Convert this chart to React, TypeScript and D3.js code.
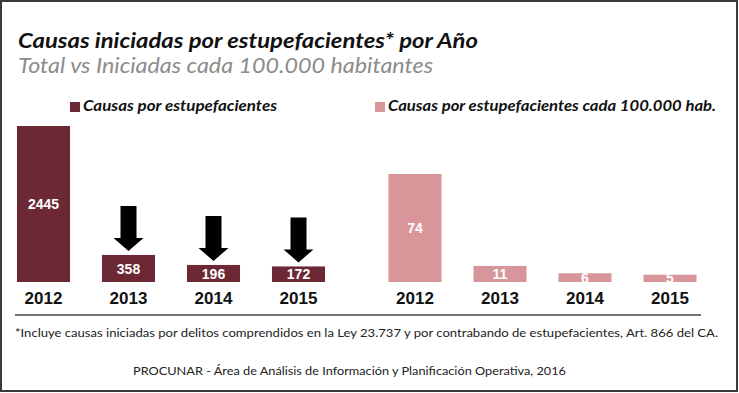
// @ts-nocheck
import React, { useRef, useEffect } from 'react';
import * as d3 from 'd3';

// years on both panels
const years = ["2012", "2013", "2014", "2015"];
// causas iniciadas por estupefacientes (total)
const totalCausas = [2445, 358, 196, 172];
// causas cada 100.000 habitantes
const causasPorHab = [74, 11, 6, 5];
// years that get the black "down" arrow on the left panel
const arrowYears = ["2013", "2014", "2015"];

const darkColor = "#6c2935";
const pinkColor = "#d8959a";
const font = "Lato, 'Open Sans', 'DejaVu Sans', sans-serif";
const numFont = "'Liberation Sans', Arial, sans-serif";

const W = 739;
const H = 393;
const baseline = 282;

const Chart = () => {
    const ref = useRef<SVGSVGElement | null>(null);

    useEffect(() => {
        const svg = d3.select(ref.current);
        if (!ref.current) return;
        svg.selectAll("*").remove();

        svg.append("rect").attr("width", W).attr("height", H).attr("fill", "#fff");

        // frame
        svg.append("rect")
            .attr("x", 1).attr("y", 1).attr("width", 736).attr("height", 390)
            .attr("fill", "none").attr("stroke", "#3a3a3a").attr("stroke-width", 2);

        // titles
        svg.append("text")
            .attr("x", 18).attr("y", 48)
            .text("Causas iniciadas por estupefacientes* por Año")
            .attr("textLength", 460).attr("lengthAdjust", "spacingAndGlyphs")
            .style("font-family", font).style("font-size", "21px")
            .style("font-weight", "bold").style("font-style", "italic").style("fill", "#111");

        svg.append("text")
            .attr("x", 18).attr("y", 73)
            .text("Total vs Iniciadas cada 100.000 habitantes")
            .attr("textLength", 415).attr("lengthAdjust", "spacingAndGlyphs")
            .style("font-family", font).style("font-size", "22px")
            .style("font-style", "italic").style("fill", "#8c8c8c");

        // left and right panels
        const xLeft = d3.scaleBand().domain(years).range([1, 341])
            .paddingInner(0.376).paddingOuter(0.188);
        const xRight = d3.scaleBand().domain(years).range([372.5, 712.5])
            .paddingInner(0.376).paddingOuter(0.188);

        // left y scale: small negative floor so the little bars stay readable like the original
        const yLeft = d3.scaleLinear().domain([-80, d3.max(totalCausas)]).range([baseline, 126]);
        const yRight = d3.scaleLinear().domain([0, d3.max(causasPorHab)]).range([baseline, 174]);

        const drawPanel = (x, y, values, color, legendX, legendText, legendLen) => {
            const g = svg.append("g");
            const floor = y.domain()[0];

            g.selectAll("rect.bar")
                .data(values)
                .enter().append("rect")
                .attr("class", "bar")
                .attr("x", (d, i) => x(years[i]))
                .attr("y", d => y(d))
                .attr("width", x.bandwidth())
                .attr("height", d => y(floor) - y(d))
                .style("fill", color);

            // value labels, white, centered in the bar
            g.selectAll("text.val")
                .data(values)
                .enter().append("text")
                .attr("class", "val")
                .attr("x", (d, i) => x(years[i]) + x.bandwidth() / 2)
                .attr("y", d => (y(d) + y(floor)) / 2)
                .attr("dy", "0.36em")
                .text(d => d)
                .style("text-anchor", "middle")
                .style("font-family", numFont).style("font-size", "14px")
                .style("font-weight", "bold").style("fill", "#fff");

            // year labels
            g.selectAll("text.year")
                .data(years)
                .enter().append("text")
                .attr("class", "year")
                .attr("x", d => x(d) + x.bandwidth() / 2)
                .attr("y", 304)
                .text(d => d)
                .style("text-anchor", "middle")
                .style("font-family", numFont).style("font-size", "17px")
                .style("font-weight", "bold").style("fill", "#111");

            // legend
            g.append("rect")
                .attr("x", legendX).attr("y", 102).attr("width", 10).attr("height", 10)
                .style("fill", color);
            g.append("text")
                .attr("x", legendX + 13).attr("y", 111)
                .text(legendText)
                .attr("textLength", legendLen).attr("lengthAdjust", "spacingAndGlyphs")
                .style("font-family", font).style("font-size", "15px")
                .style("font-weight", "bold").style("font-style", "italic").style("fill", "#111");
        };

        drawPanel(xLeft, yLeft, totalCausas, darkColor, 70, "Causas por estupefacientes", 194);
        drawPanel(xRight, yRight, causasPorHab, pinkColor, 375, "Causas por estupefacientes cada 100.000 hab.", 328);

        // down arrows above the falling bars
        const arrow = d3.path();
        arrow.moveTo(-8, 0);
        arrow.lineTo(8, 0);
        arrow.lineTo(8, 32);
        arrow.lineTo(15, 32);
        arrow.lineTo(0, 45);
        arrow.lineTo(-15, 32);
        arrow.lineTo(-8, 32);
        arrow.closePath();

        svg.selectAll("path.arrow")
            .data(arrowYears)
            .enter().append("path")
            .attr("class", "arrow")
            .attr("d", arrow.toString())
            .attr("transform", d => {
                const i = years.indexOf(d);
                const cx = xLeft(d) + xLeft.bandwidth() / 2;
                return `translate(${cx},${yLeft(totalCausas[i]) - 4 - 45})`;
            })
            .style("fill", "#000");

        // separator line
        svg.append("line")
            .attr("x1", 15).attr("x2", 701).attr("y1", 315).attr("y2", 315)
            .style("stroke", "#444").style("stroke-width", 1.5);

        // footnotes
        svg.append("text")
            .attr("x", 15).attr("y", 337)
            .text("*Incluye causas iniciadas por delitos comprendidos en la Ley 23.737 y por contrabando de estupefacientes, Art. 866 del CA.")
            .attr("textLength", 703).attr("lengthAdjust", "spacingAndGlyphs")
            .style("font-family", font).style("font-size", "12px").style("fill", "#222");

        svg.append("text")
            .attr("x", 133).attr("y", 375)
            .text("PROCUNAR - Área de Análisis de Información y Planificación Operativa, 2016")
            .attr("textLength", 433).attr("lengthAdjust", "spacingAndGlyphs")
            .style("font-family", font).style("font-size", "12px").style("fill", "#222");
    }, []);

    return <svg ref={ref} width={W} height={H} style={{ position: "absolute", left: 0, top: 0 }} />;
};

export default function App() {
    return <Chart />;
}
